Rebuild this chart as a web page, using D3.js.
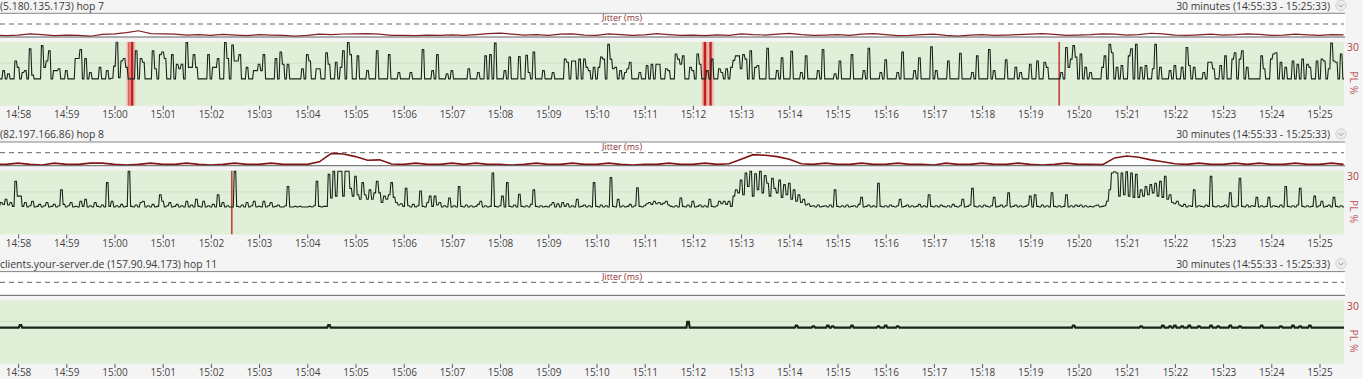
<!DOCTYPE html>
<html><head><meta charset="utf-8">
<script src="https://cdn.jsdelivr.net/npm/d3@7"></script>
<style>
html,body{margin:0;padding:0;background:#f4f4f4;overflow:hidden}
svg{display:block}
</style></head><body>
<svg id="c" width="1363" height="379"></svg>
<script>
// ---------------- data ----------------
const timeStart = "14:55:33", timeEnd = "15:25:33";
const rangeLabel = "30 minutes (14:55:33 - 15:25:33)";
const hopLabels = ["(5.180.135.173) hop 7", "(82.197.166.86) hop 8", "clients.your-server.de (157.90.94.173) hop 11"];
const jitterTitle = "Jitter (ms)";
const plMaxLabel = "30";
const plAxisTitle = "PL %";
const tickLabels = ["14:58","14:59","15:00","15:01","15:02","15:03","15:04","15:05","15:06","15:07","15:08","15:09","15:10","15:11","15:12","15:13","15:14","15:15","15:16","15:17","15:18","15:19","15:20","15:21","15:22","15:23","15:24","15:25"];

// latency samples (relative scale 0-100), one every 3 s from 14:57:00
const sampleStart = "14:57:00";
const sampleStepSec = 3;
const latency1 = [
42,42,42,42,42,42,42,42,42,42,42,42,42,42,55,42,50,42,42,70,
60,42,52,55,42,89,48,42,42,42,94,60,70,86,42,55,55,58,42,42,
55,42,42,42,74,74,88,42,74,42,52,42,42,42,60,42,42,55,42,43,
62,100,44,70,74,60,42,42,42,86,42,74,68,42,42,42,86,58,42,80,
84,74,42,42,80,42,65,58,65,42,99,60,60,80,60,42,42,42,42,80,
42,60,60,74,42,42,99,74,42,95,70,70,80,42,42,60,42,42,55,55,
65,55,80,42,42,42,42,74,42,84,65,42,65,42,42,42,42,42,58,42,
80,70,42,42,58,58,42,42,83,65,42,42,68,42,60,86,42,99,80,42,
42,78,42,42,42,55,42,42,42,86,42,42,42,42,80,42,42,42,52,42,
42,42,42,52,42,42,42,42,88,42,42,42,55,42,80,42,42,42,50,42,
55,42,42,42,42,42,42,58,42,42,42,52,42,42,78,42,80,42,98,42,
42,42,55,42,76,42,42,42,77,42,42,79,52,42,84,42,42,42,55,42,
42,42,52,42,42,42,42,73,68,42,70,70,42,73,42,73,60,55,42,60,
42,60,76,73,42,96,73,58,60,42,55,42,52,58,68,42,42,42,52,42,
42,63,42,65,42,65,65,42,42,58,55,42,42,81,73,65,78,42,42,60,
55,42,81,65,42,42,55,42,73,42,42,58,52,42,58,42,60,71,78,78,
58,80,73,42,86,42,60,63,42,42,42,90,42,42,42,55,42,75,42,42,
42,85,42,42,42,52,42,78,42,42,42,42,55,42,88,42,42,42,42,50,
42,70,42,42,42,42,80,42,42,42,42,55,42,90,42,42,42,42,52,42,
72,42,42,42,42,52,42,84,42,42,42,42,55,42,75,42,42,42,42,92,
42,55,42,42,42,42,70,42,42,42,42,82,42,42,42,42,52,42,78,42,
42,42,42,88,42,55,42,42,42,42,72,42,42,42,60,42,52,42,42,42,
65,42,42,70,42,42,68,60,42,42,42,42,42,52,42,91,60,73,94,76,
42,81,42,60,42,52,42,42,42,42,60,78,42,96,83,42,60,42,63,42,
42,78,89,42,96,42,60,42,63,42,42,58,96,42,60,42,42,42,55,42,
63,42,42,60,42,91,63,42,60,42,42,42,52,42,68,68,58,42,42,63,
42,78,42,42,73,83,42,73,86,42,60,42,42,42,42,42,78,58,42,42,
73,81,83,42,68,42,60,42,42,70,42,65,42,73,42,65,60,42,42,70,
42,73,70,42,58,98,70,68,42,81,42,42];
const latency2 = [
43,43,43,46,43,43,45,43,43,47,43,43,44,50,47,55,46,50,44,83,
60,60,44,50,43,45,52,43,44,47,43,45,50,43,44,47,43,45,70,47,
43,45,50,43,44,43,52,44,55,43,45,43,50,44,43,46,43,81,44,52,
43,45,43,47,43,44,99,44,43,46,43,50,52,43,45,43,47,43,44,62,
52,43,45,50,43,44,47,43,45,43,52,43,46,43,55,44,43,52,43,45,
43,47,43,62,44,50,43,45,43,43,99,44,43,46,43,50,43,45,52,43,
44,43,52,43,45,50,43,44,46,43,43,45,75,43,43,44,43,44,43,43,
43,44,43,45,83,44,43,44,44,94,57,99,60,99,99,60,99,99,72,60,
91,62,55,81,62,55,70,55,65,83,65,50,60,55,62,81,58,50,46,48,
44,72,45,43,47,43,45,68,44,43,50,60,44,60,46,50,43,45,43,57,
43,45,43,75,44,43,46,43,45,43,44,47,52,43,45,43,44,96,44,43,
45,60,43,81,44,43,46,43,63,44,43,45,43,47,70,44,43,45,43,44,
43,46,50,43,48,43,50,44,48,43,45,43,55,43,44,46,43,45,43,81,
44,43,46,43,45,43,89,44,43,55,43,45,43,44,47,43,45,73,44,43,
45,48,50,47,52,48,50,47,49,52,46,44,43,45,43,57,44,43,46,43,
52,43,44,46,43,45,43,55,44,43,45,52,48,52,47,52,44,60,70,65,
85,62,96,75,99,60,95,70,99,65,92,80,60,88,72,65,85,58,78,62,
80,55,70,52,62,50,55,46,48,44,45,43,46,43,44,45,43,46,43,70,
44,43,45,43,46,43,44,45,43,47,58,43,44,46,43,45,43,80,44,43,
45,43,46,44,43,45,55,43,44,46,43,45,43,44,47,43,45,43,62,44,
43,45,43,46,44,43,45,43,47,44,43,45,55,43,44,46,72,44,43,45,
43,46,44,43,45,58,43,44,46,43,45,65,43,44,46,43,45,43,44,46,
60,43,62,44,43,46,43,45,43,65,44,43,45,43,44,62,43,45,43,46,
44,46,43,45,43,44,43,45,46,43,44,45,52,70,96,98,96,60,96,62,
98,60,96,58,94,58,70,60,75,62,78,65,80,60,83,58,91,55,62,50,
48,52,46,44,47,43,45,44,70,43,45,44,43,46,44,91,44,43,45,43,
44,46,43,65,44,43,45,88,44,43,46,43,45,44,58,43,45,43,44,58,
43,45,44,43,46,43,75,44,43,45,43,46,72,44,43,45,43,44,60,43,
45,52,43,44,46,43,58,44,43,45,43,44];
const latency3 = [
57,57,57,57,57,57,57,57,57,57,57,57,57,57,57,57,57,57,57,57,
57,61,57,57,57,57,57,57,57,57,57,57,57,57,57,57,57,57,57,57,
57,57,57,57,57,57,57,57,57,57,57,57,57,57,57,57,57,57,57,57,
57,57,57,57,57,57,57,57,57,57,57,57,57,57,57,57,57,57,57,57,
57,57,57,57,57,57,57,57,57,57,57,57,57,57,57,57,57,57,57,57,
57,57,57,57,57,57,57,57,57,57,57,57,57,57,57,57,57,57,57,57,
57,57,57,57,57,57,57,57,57,57,57,57,57,57,57,57,57,57,57,57,
57,57,57,57,57,57,57,57,57,61,57,57,57,57,57,57,57,57,57,57,
57,57,57,57,57,57,57,57,57,57,57,57,57,57,57,57,57,57,57,57,
57,57,57,57,57,57,57,57,57,57,57,57,57,57,57,57,57,57,57,57,
57,57,57,57,57,57,57,57,57,57,57,57,57,57,57,57,57,57,57,57,
57,57,57,57,57,57,57,57,57,57,57,57,57,57,57,57,57,57,57,57,
57,57,57,57,57,57,57,57,57,57,57,57,57,57,57,57,57,57,57,57,
57,57,57,57,57,57,57,57,57,57,57,57,57,57,57,57,57,57,57,57,
57,57,57,57,57,57,57,57,57,57,57,57,57,57,57,57,57,57,66,57,
57,57,57,57,57,57,57,57,57,57,57,57,57,57,57,57,57,57,57,57,
57,57,57,57,57,57,57,57,57,57,57,57,57,57,57,57,57,57,57,57,
57,57,57,60,57,57,57,57,57,57,59,57,57,57,57,57,60,57,59,57,
57,57,57,57,57,57,60,57,57,57,57,57,57,57,57,57,57,59,57,57,
60,57,57,57,57,59,57,57,57,57,57,57,57,57,57,57,57,57,57,57,
57,57,57,57,57,57,57,57,57,57,57,57,57,57,57,57,57,57,57,57,
57,57,57,57,57,57,57,57,57,57,57,57,57,57,57,57,57,57,57,57,
57,57,57,57,57,57,57,57,57,57,57,57,57,57,57,57,57,57,60,57,
57,57,57,57,57,57,57,57,57,57,57,57,57,57,57,57,57,57,57,57,
57,57,57,57,57,57,59,57,57,57,57,57,57,57,57,60,57,57,59,57,
60,57,57,59,57,57,60,57,57,57,59,57,57,57,57,60,57,57,59,57,
57,57,57,60,57,57,57,59,57,57,57,57,57,57,57,57,60,57,57,57,
57,57,57,57,59,57,57,57,57,60,57,57,59,57,57,57,60,57,57,57,
57,57,57,57,57,57,57,57,57,57,57,57];

// jitter (ms), one every 15 s from 14:57:00
const jitterStart = "14:57:00";
const jitterStepSec = 15;
const jitter1 = [1.8,1.8,1.4,1.0,1.5,2.4,1.8,1.0,1.5,1.2,0.6,2.0,2.4,3.3,4.8,2.6,2.4,2.2,1.5,1.8,
1.2,2.0,1.5,1.0,1.8,1.5,1.2,0.7,1.2,2.2,1.8,2.3,2.4,2.6,2.2,1.2,1.3,1.0,1.5,1.2,
1.6,1.2,1.8,2.6,3.0,2.2,1.5,1.8,1.2,2.2,2.4,1.5,1.2,2.4,1.8,1.2,1.6,2.6,1.8,1.2,
1.5,1.0,1.7,1.2,2.4,1.8,1.5,2.2,2.8,1.8,1.2,1.5,1.8,1.2,2.2,2.6,1.8,1.0,1.2,1.8,
2.2,1.2,0.7,1.5,1.8,1.2,1.5,1.8,2.2,2.6,2.0,1.2,1.5,1.8,2.4,2.2,1.5,1.8,2.9,2.4,
1.5,1.2,1.7,2.2,1.5,1.8,2.4,2.0,1.2,1.5,2.2,1.7,1.2,1.8,1.6];
const jitter2 = [1,2,1,1,2,1,0.5,2,1,1,2,2,1,0.5,1,2,1,1,2,1,0.5,1,2,1,1,2,1,1,
1,3,9.5,9,7,4.2,4.5,1.3,
1,2,1,1,2,1,2,1,1,0.5,1,2,1,1,2,1,1,2,1,0.5,1,1,2,1,1,2,1,
1.5,5,8.5,8,7,5,1.5,
1,2,1,1,2,1,1,2,1,1,0.5,2,1,1,2,1,1,2,1,0.5,1,2,1,1,
0.8,6,7.5,6.5,4.5,3,1.5,
1,2,1,1,2,1,2,1,1,2,1,1,2,1];
const jitter3 = [];

// packet loss events
const plTimes1 = ["15:00:19","15:00:22","15:12:15","15:12:22","15:19:36"];
const plPct1 = [100,80,100,80,40];
const plTimes2 = ["15:02:26"];
const plPct2 = [40];
const plTimes3 = [];
const plPct3 = [];

// ---------------- drawing ----------------
const FONT = "'Open Sans', 'Noto Sans', sans-serif";
const svg = d3.select("#c");
const parse = d3.timeParse("%H:%M:%S");
const parseHM = d3.timeParse("%H:%M");
const x = d3.scaleTime().domain([parse(timeStart), parse(timeEnd)]).range([-100, 1346]);
const plotRight = 1344;
const t0 = parse(sampleStart).getTime();
const j0 = parse(jitterStart).getTime();
const HOLD = 0.75; // half-width (px) each sample value is held before sloping to the next

const panels = [
  {top: 13.3, label: hopLabels[0], lat: latency1, jit: jitter1, plT: plTimes1, plP: plPct1, lw: 1.1, jw: 1.2, jc: "#7f2020"},
  {top: 142, label: hopLabels[1], lat: latency2, jit: jitter2, plT: plTimes2, plP: plPct2, lw: 1.1, jw: 1.6, jc: "#7f1616"},
  {top: 271.6, label: hopLabels[2], lat: latency3, jit: jitter3, plT: plTimes3, plP: plPct3, lw: 2.2, jw: 1.1, jc: "#7f2020"}
];

const defs = svg.append("defs");

panels.forEach((p, i) => {
  const T = p.top;
  const jB = T + 23.7;
  const gT = T + 28.5, gB = T + 92.5;
  const g = svg.append("g");

  // header
  g.append("text").attr("x", 0).attr("y", T - 3.6)
    .attr("font-family", FONT).attr("font-size", 10.4).attr("fill", "#3a3a3a").text(p.label);
  g.append("text").attr("x", 1330).attr("y", T - 3.6).attr("text-anchor", "end")
    .attr("font-family", FONT).attr("font-size", 10.4).attr("fill", "#3a3a3a").text(rangeLabel);
  const chev = g.append("g").attr("transform", `translate(1341,${T - 8})`);
  chev.append("circle").attr("r", 5.2).attr("fill", "#ebebeb").attr("stroke", "#d2d2d2");
  chev.append("path").attr("d", "M-2.4,-0.8L0,1.6L2.4,-0.8").attr("fill", "none").attr("stroke", "#9a9a9a").attr("stroke-width", 1);

  // jitter area
  g.append("rect").attr("x", 0).attr("y", T).attr("width", plotRight + 1).attr("height", jB - T).attr("fill", "#ffffff");
  g.append("line").attr("x1", 0).attr("x2", plotRight + 1).attr("y1", T).attr("y2", T).attr("stroke", "#858585").attr("stroke-width", 1);
  g.append("line").attr("x1", 0).attr("x2", plotRight).attr("y1", T + 10.7).attr("y2", T + 10.7)
    .attr("stroke", "#555").attr("stroke-width", 0.9).attr("stroke-dasharray", "5,4");
  g.append("text").attr("x", 622).attr("y", T + 8).attr("text-anchor", "middle")
    .attr("font-family", FONT).attr("font-size", 9).attr("fill", "#8b3030").text(jitterTitle);

  const yJ = d3.scaleLinear().domain([0, 10]).range([jB, jB - 13]);
  if (p.jit.length) {
    const jl = d3.line().x((d, k) => x(new Date(j0 + k * jitterStepSec * 1000))).y(d => yJ(d));
    g.append("path").attr("d", jl(p.jit)).attr("fill", "none").attr("stroke", p.jc).attr("stroke-width", p.jw);
  }
  g.append("line").attr("x1", 0).attr("x2", plotRight + 1).attr("y1", jB).attr("y2", jB).attr("stroke", "#5e5e5e").attr("stroke-width", 1);

  // main green plot
  g.append("rect").attr("x", 0).attr("y", gT).attr("width", plotRight).attr("height", gB - gT).attr("fill", "#e0efd8");
  g.append("line").attr("x1", 0).attr("x2", plotRight).attr("y1", gT + (gB - gT) / 3).attr("y2", gT + (gB - gT) / 3)
    .attr("stroke", "#cde0c3").attr("stroke-width", 1);

  const cid = "clip" + i;
  defs.append("clipPath").attr("id", cid).append("rect").attr("x", 0).attr("y", gT).attr("width", plotRight).attr("height", gB - gT);
  const pg = g.append("g").attr("clip-path", `url(#${cid})`);

  const yL = d3.scaleLinear().domain([0, 100]).range([gB, gT]);
  const yP = d3.scaleLinear().domain([0, 30]).range([gB, gT]).clamp(true);

  // packet loss bars
  p.plT.forEach((s, k) => {
    const cx = x(parse(s));
    const pct = p.plP[k];
    const w = 1 + pct / 100 * 1.6;
    if (pct >= 75) {
      pg.append("rect").attr("x", cx - w / 2 - 2).attr("y", yP(pct)).attr("width", w + 4).attr("height", gB - yP(pct))
        .attr("fill", "#f2a59c").attr("opacity", 0.75);
    }
    pg.append("rect").attr("x", cx - w / 2).attr("y", yP(pct)).attr("width", w).attr("height", gB - yP(pct))
      .attr("fill", pct >= 75 ? "#be1e1e" : "#c8423a");
  });

  // latency: each sample held for a short flat segment, steep slope to the next
  const pts = p.lat.flatMap((v, k) => {
    const cx = x(new Date(t0 + k * sampleStepSec * 1000));
    return [[cx - HOLD, yL(v)], [cx + HOLD, yL(v)]];
  });
  pg.append("path").attr("d", d3.line()(pts)).attr("fill", "none").attr("stroke", "#17241a")
    .attr("stroke-width", p.lw).attr("stroke-linejoin", "miter");

  // right PL axis labels
  g.append("text").attr("x", 1347).attr("y", gT + 9.5).attr("font-family", FONT).attr("font-size", 10.4)
    .attr("fill", "#b04040").text(plMaxLabel);
  g.append("text").attr("transform", `translate(1349.5,${gT + 41}) rotate(90)`).attr("text-anchor", "middle")
    .attr("font-family", FONT).attr("font-size", 10.4).attr("fill", "#c06060").text(plAxisTitle);

  // time axis
  const axis = d3.axisBottom(x).tickValues(tickLabels.map(parseHM)).tickFormat(d3.timeFormat("%H:%M")).tickSize(4).tickPadding(1);
  const ag = g.append("g").attr("transform", `translate(0,${gB})`).call(axis);
  ag.attr("font-family", FONT).attr("font-size", 10);
  ag.select(".domain").remove();
  ag.selectAll(".tick line").attr("stroke", "#555");
  ag.selectAll(".tick text").attr("fill", "#444");
});
</script>
</body></html>
